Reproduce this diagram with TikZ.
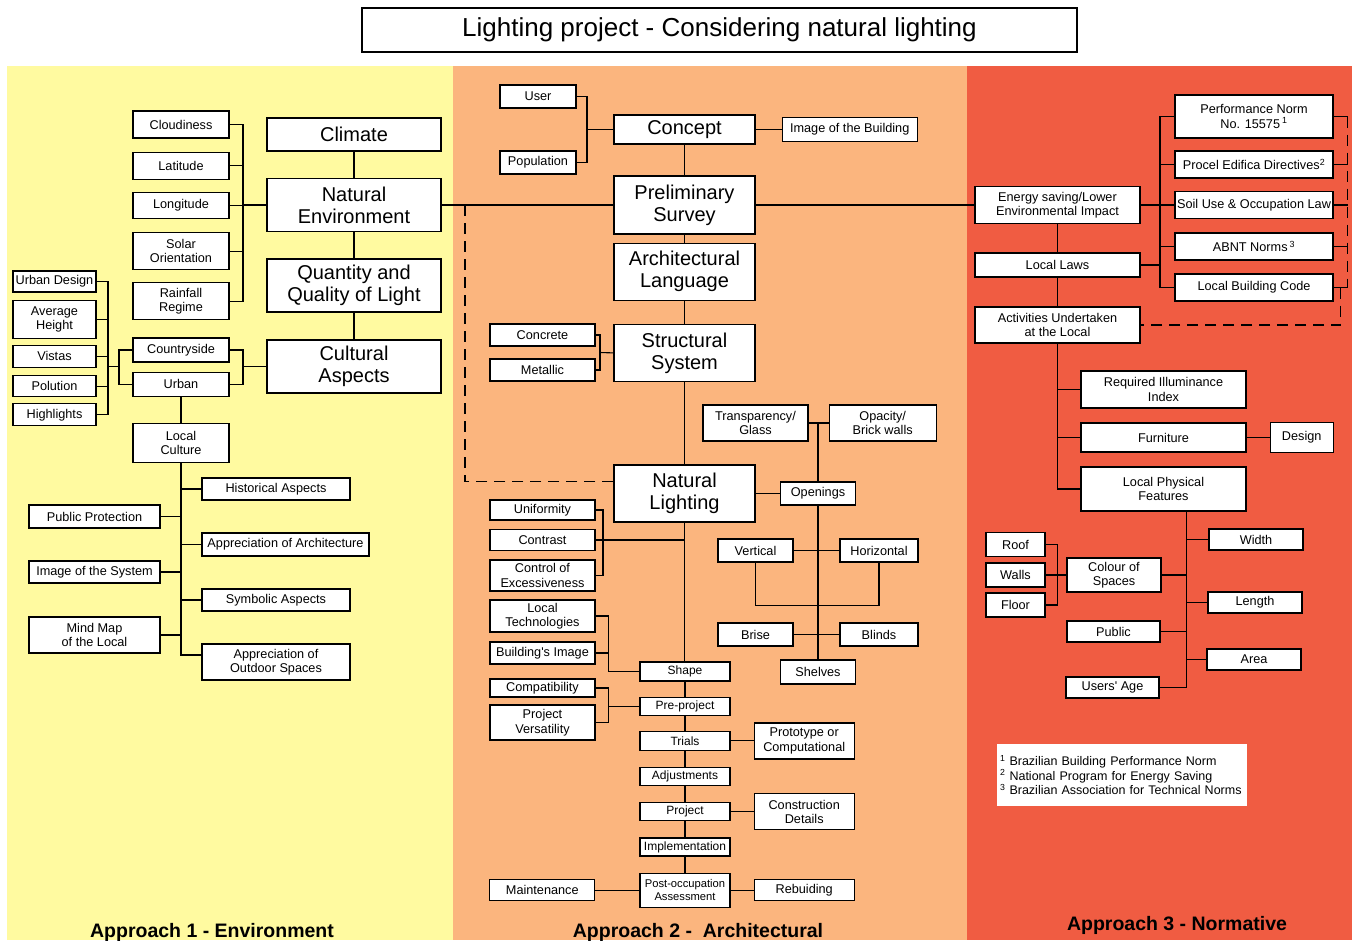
\documentclass[tikz,border=0pt]{standalone}
\usepackage{fontspec}
\setmainfont{Liberation Sans}
\usetikzlibrary{positioning}
\pgfdeclarelayer{bg}
\pgfdeclarelayer{edges}
\pgfsetlayers{bg,edges,main}
\definecolor{envyellow}{RGB}{255,250,160}
\definecolor{archorange}{RGB}{251,181,126}
\definecolor{normred}{RGB}{240,92,66}

\begin{document}
\begin{tikzpicture}
[x=1pt, y=-1pt,
 box/.style={draw, fill=white, line width=1.2pt, inner sep=0pt, align=center,
   font=\fontsize{12.7}{14.5}\selectfont},
 big/.style={box, font=\fontsize{20}{22}\selectfont},
 chain/.style={box, font=\fontsize{12}{13.5}\selectfont},
 sz/.style 2 args={minimum width=#1, minimum height=#2},
 link/.style={line width=1.1pt},
 dashlink/.style={line width=1.1pt, dash pattern=on 11pt off 7pt},
 approach/.style={anchor=base, font=\fontsize{19.5}{22}\bfseries\selectfont}]

\useasboundingbox (0,0) rectangle (1355,940);
\begin{pgfonlayer}{bg}
\fill[envyellow] (7,66) rectangle (453,940);
\fill[archorange] (453,66) rectangle (967,940);
\fill[normred] (967,66) rectangle (1352,940);
\end{pgfonlayer}

\node[draw, line width=1.2pt, sz={715}{44}, font=\fontsize{26}{28}\selectfont] (title) at (719.5,30) {Lighting project - Considering natural lighting};

% approach 1
\node[big, sz={174}{33}] (climate) at (354,134.5) {Climate};
\node[big, sz={174}{53}] (natenv) at (354,205) {Natural\\Environment};
\node[big, sz={174}{53}] (qlight) at (354,285.5) {Quantity and\\Quality of Light};
\node[big, sz={174}{53}] (cult) at (354,366.5) {Cultural\\Aspects};
\node[box, sz={96}{27}] (cloud) at (181,124.5) {Cloudiness};
\node[box, sz={96}{27}, below=13pt of cloud] (lat) {Latitude};
\node[box, sz={96}{26}, below=12pt of lat] (lon) {Longitude};
\node[box, sz={96}{37}, below=13pt of lon] (solar) {Solar\\Orientation};
\node[box, sz={96}{37}, below=12pt of solar] (rain) {Rainfall\\Regime};
\node[box, sz={96}{24}] (country) at (181,350) {Countryside};
\node[box, sz={96}{24}, below=9pt of country] (urban) {Urban};
\node[box, sz={96}{39}, below=26pt of urban] (lculture) {Local\\Culture};
\node[box, sz={83}{21}] (udesign) at (54.5,281.5) {Urban Design};
\node[box, sz={83}{38}, below=7pt of udesign] (avgh) {Average\\Height};
\node[box, sz={83}{22}, below=6pt of avgh] (vistas) {Vistas};
\node[box, sz={83}{21}, below=7pt of vistas] (polut) {Polution};
\node[box, sz={83}{22}, below=6pt of polut] (highl) {Highlights};
\node[box, sz={148}{22}] (hist) at (276,489) {Historical Aspects};
\node[box, sz={131}{23}] (pubprot) at (94.5,516.5) {Public Protection};
\node[box, sz={167}{23}] (apparch) at (285.5,544.5) {Appreciation of Architecture};
\node[box, sz={131}{22}] (imgsys) at (94.5,572) {Image of the System};
\node[box, sz={148}{22}] (symb) at (276,600) {Symbolic Aspects};
\node[box, sz={131}{36}] (mindmap) at (94.5,635) {Mind Map\\of the Local};
\node[box, sz={148}{36}] (outdoor) at (276,662) {Appreciation of\\Outdoor Spaces};

% approach 2
\node[big, sz={141}{29}] (concept) at (684.5,129.5) {Concept};
\node[box, sz={76}{23}] (user) at (538,96.5) {User};
\node[box, sz={76}{23}] (popul) at (538,162.5) {Population};
\node[box, sz={135}{24}, right=26pt of concept] (imgbld) {Image of the Building};
\node[big, sz={141}{58}] (presurv) at (684.5,205) {Preliminary\\Survey};
\node[big, sz={141}{57}, below=8pt of presurv] (archlang) {Architectural\\Language};
\node[big, sz={141}{57}, below=23pt of archlang] (struct) {Structural\\System};
\node[big, sz={141}{57}] (natlight) at (684.5,493.5) {Natural\\Lighting};
\node[box, sz={105}{22}] (concr) at (542.5,335) {Concrete};
\node[box, sz={105}{22}] (metal) at (542.5,370) {Metallic};
\node[box, sz={105}{36}] (transp) at (755.5,423) {Transparency/\\Glass};
\node[box, sz={107}{36}, right=20pt of transp] (opac) {Opacity/\\Brick walls};
\node[box, sz={75}{23}] (openings) at (818,493.5) {Openings};
\node[box, sz={75}{23}] (vert) at (755.5,550.5) {Vertical};
\node[box, sz={78}{23}] (horiz) at (879,550.5) {Horizontal};
\node[box, sz={75}{23}] (brise) at (755.5,634.5) {Brise};
\node[box, sz={78}{23}] (blinds) at (879,634.5) {Blinds};
\node[box, sz={75}{24}] (shelves) at (818,672) {Shelves};
\node[box, sz={105}{20}] (unif) at (542.5,510) {Uniformity};
\node[box, sz={105}{21}] (contr) at (542.5,540) {Contrast};
\node[box, sz={105}{31}] (excess) at (542.5,575.5) {Control of\\Excessiveness};
\node[box, sz={105}{32}] (ltech) at (542.5,616) {Local\\Technologies};
\node[box, sz={105}{22}] (bimage) at (542.5,653) {Building\textquotesingle s Image};
\node[box, sz={105}{18}] (compat) at (542.5,688) {Compatibility};
\node[box, sz={105}{35}] (versat) at (542.5,722.5) {Project\\Versatility};
\node[chain, sz={90}{19}] (shape) at (685,671.5) {Shape};
\node[chain, sz={90}{18}, below=15pt of shape] (preproj) {Pre-project};
\node[chain, sz={90}{19}, below=15pt of preproj] (trials) {Trials};
\node[chain, sz={90}{18}, below=16pt of trials] (adjust) {Adjustments};
\node[chain, sz={90}{18}, below=16pt of adjust] (proj) {Project};
\node[chain, sz={90}{18}, below=16pt of proj] (impl) {Implementation};
\node[chain, sz={90}{34}, below=16pt of impl, font=\fontsize{11.2}{13.5}\selectfont] (postocc) {Post-occupation\\Assessment};
\node[box, sz={100}{36}, right=23pt of trials] (proto) {Prototype or\\Computational};
\node[box, sz={100}{36}, right=23pt of proj] (constr) {Construction\\Details};
\node[box, sz={100}{21}, right=23pt of postocc] (rebuild) {Rebuiding};
\node[box, sz={105}{21}, left=44pt of postocc] (maint) {Maintenance};

% approach 3
\node[box, sz={165}{37}] (energy) at (1057.5,205) {Energy saving/Lower\\Environmental Impact};
\node[box, sz={158}{43}] (perf) at (1254,116.5) {Performance Norm\\No. 15575\,\textsuperscript{1}};
\node[box, sz={158}{27}] (procel) at (1254,164.5) {Procel Edifica Directives\textsuperscript{2}};
\node[box, sz={158}{27}] (soil) at (1254,205) {Soil Use \& Occupation Law};
\node[box, sz={158}{27}] (abnt) at (1254,246.5) {ABNT Norms\,\textsuperscript{3}};
\node[box, sz={158}{27}] (lbcode) at (1254,287.5) {Local Building Code};
\node[box, sz={165}{24}] (llaws) at (1057.5,265) {Local Laws};
\node[box, sz={165}{36}] (activ) at (1057.5,325) {Activities Undertaken\\at the Local};
\node[box, sz={165}{37}] (reqill) at (1163.5,389.5) {Required Illuminance\\Index};
\node[box, sz={165}{29}] (furn) at (1163.5,437.5) {Furniture};
\node[box, sz={63}{30}, right=23pt of furn] (design) {Design};
\node[box, sz={165}{44}] (lpf) at (1163.5,489) {Local Physical\\Features};
\node[box, sz={94}{21}] (width) at (1256,539.5) {Width};
\node[box, sz={94}{34}] (colour) at (1114,575) {Colour of\\Spaces};
\node[box, sz={94}{21}] (length) at (1255,602.5) {Length};
\node[box, sz={93}{21}] (public) at (1113.5,631.5) {Public};
\node[box, sz={94}{21}] (area) at (1254,659.5) {Area};
\node[box, sz={93}{21}] (usage) at (1112.5,687.5) {Users\textquotesingle\ Age};
\node[box, sz={59}{24}] (roof) at (1015.5,544.5) {Roof};
\node[box, sz={59}{24}] (walls) at (1015.5,575) {Walls};
\node[box, sz={59}{24}] (floor) at (1015.5,605) {Floor};
\node[fill=white, align=left, inner sep=3pt, text width=244pt, minimum height=62pt,
  font=\fontsize{12.5}{14.3}\selectfont] (notes) at (1122,775)
  {\textsuperscript{1} Brazilian Building Performance Norm\\
   \textsuperscript{2} National Program for Energy Saving\\
   \textsuperscript{3} Brazilian Association for Technical Norms};

\node[approach] (a1) at (212,937) {Approach 1 - Environment};
\node[approach] (a2) at (698,937) {Approach 2 - \ Architectural};
\node[approach] (a3) at (1177,930) {Approach 3 - Normative};

\begin{pgfonlayer}{edges}
\begin{scope}[link]
% approach 1
\coordinate (jne) at (243,205);
\draw (cloud.east) -| (jne) -- (natenv.west);
\draw (rain.east) -| (jne);
\foreach \n in {lat,lon,solar} \draw (\n.east) -- (\n.east -| jne);
\draw (climate) -- (natenv) -- (qlight) -- (cult);
\draw (natenv.east) -- (presurv.west);
\coordinate (jca) at (243,366.5);
\draw (country.east) -| (jca) |- (urban.east);
\draw (jca) -- (cult.west);
\coordinate (jcb) at (119,366.5);
\draw (country.west) -| (jcb) |- (urban.west);
\coordinate (jud) at (108,366.5);
\draw (udesign.east) -| (jud) |- (highl.east);
\draw (jud) -- (jcb);
\foreach \n in {avgh,vistas,polut} \draw (\n.east) -- (\n.east -| jud);
\draw (urban) -- (lculture);
\draw (lculture.south) |- ([yshift=7pt]outdoor.west);
\foreach \n in {hist,apparch,symb} \draw (\n.west) -- (\n.west -| lculture.south);
\foreach \n in {pubprot,imgsys,mindmap} \draw (\n.east) -- (\n.east -| lculture.south);

% approach 2
\coordinate (jus) at (587,129.5);
\draw (user.east) -| (jus) |- (popul.east);
\draw (jus) -- (concept.west);
\draw (concept) -- (imgbld);
\draw (concept) -- (presurv) -- (archlang) -- (struct) -- (natlight);
\draw (presurv) -- (energy);
\coordinate (jst) at (600,352.5);
\draw (concr.east) -| (jst) |- (metal.east);
\draw (jst) -- (struct.west);
\draw[dashlink] ([yshift=12pt]natlight.west) -| (465,205);
\draw (transp.east) -- (opac.west);
\draw (shelves.north |- transp.east) -- (shelves.north);
\draw (natlight) -- (openings);
\draw (vert.east) -- (horiz.west);
\draw (vert.south) -- ++(0,43) -| (horiz.south);
\draw (brise.east) -- (blinds.west);
\draw (natlight.south) -- (natlight.south |- shape.north);
\coordinate (jun) at (603,540);
\draw (unif.east) -| (jun) -- (jun -| natlight.south);
\draw (excess.east) -| (jun);
\draw (contr.east) -- (jun);
\coordinate (jlt) at ([xshift=-31pt]shape.west);
\draw (ltech.east) -| (jlt) -- (shape.west);
\draw (bimage.east) -- (bimage.east -| jlt);
\coordinate (jcp) at ([xshift=-31pt]preproj.west);
\draw (compat.east) -| (jcp) -- (preproj.west);
\draw (versat.east) -| (jcp);
\draw (shape) -- (preproj) -- (trials) -- (adjust) -- (proj) -- (impl) -- (postocc);
\draw (trials) -- (proto);
\draw (proj) -- (constr);
\draw (maint) -- (postocc) -- (rebuild);

% approach 3
\coordinate (jen) at (1160,205);
\draw (energy) -- (soil);
\draw (perf.west) -| (jen) |- (lbcode.west);
\foreach \n in {procel,abnt} \draw (\n.west) -- (\n.west -| jen);
\draw (llaws.east) -- (llaws.east -| jen);
\draw (energy) -- (llaws) -- (activ);
\foreach \n in {perf,procel,soil,abnt,lbcode} \draw (\n.east) -- ++(14,0);
\draw[dashlink] ([xshift=14pt]perf.east) -- ([xshift=14pt]lbcode.east);
\draw[dashlink] ([xshift=7pt]lbcode.east) |- (activ.east);
\draw (activ.south) |- (lpf.west);
\foreach \n in {reqill,furn} \draw (\n.west) -- (\n.west -| activ.south);
\draw (furn) -- (design);
\coordinate (jlp) at ([xshift=23pt]lpf.south);
\draw (jlp) |- (usage.east);
\foreach \n in {width,length,area} \draw (\n.west) -- (\n.west -| jlp);
\foreach \n in {colour,public} \draw (\n.east) -- (\n.east -| jlp);
\draw (roof.east) -| ([xshift=12pt]walls.east) |- (floor.east);
\draw (walls.east) -- (colour.west);
\end{scope}
\end{pgfonlayer}
\end{tikzpicture}
\end{document}
